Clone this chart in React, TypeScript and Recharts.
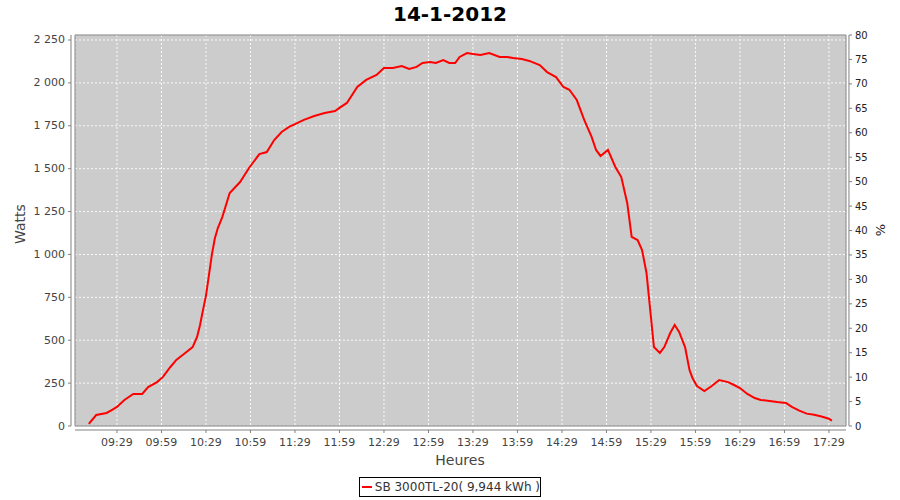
import {
  LineChart,
  Line,
  XAxis,
  YAxis,
  CartesianGrid,
  ReferenceLine,
  ReferenceArea,
} from 'recharts'

// minutes since midnight
const TIMES = [
  550, 555, 562, 566, 569, 574, 580, 586, 590, 596, 600, 605, 609, 615, 620, 623, 625, 627, 629, 631,
  633, 635, 637, 640, 645, 652, 658, 665, 670, 675, 680, 685, 689, 695, 702, 709, 716, 719, 724, 731,
  737, 744, 749, 755, 761, 766, 771, 775, 780, 784, 789, 793, 797, 800, 805, 809, 814, 820, 827, 832,
  836, 842, 847, 854, 859, 865, 870, 874, 879, 884, 889, 892, 895, 900, 905, 909, 913, 916, 920, 923,
  926, 929, 931, 935, 938, 942, 945, 948, 952, 955, 957, 960, 965, 970, 975, 981, 985, 989, 994, 999,
  1003, 1009, 1014, 1020, 1024, 1029, 1034, 1039, 1044, 1049, 1051,
]

const WATTS = [
  12, 64, 76, 95, 111, 152, 187, 187, 227, 256, 286, 344, 385, 426, 460, 519, 589, 676, 760, 880,
  1000, 1094, 1154, 1218, 1358, 1422, 1504, 1585, 1597, 1667, 1714, 1743, 1760, 1784, 1807, 1824, 1836, 1854, 1883, 1976,
  2017, 2046, 2087, 2087, 2098, 2081, 2093, 2116, 2122, 2116, 2133, 2116, 2116, 2151, 2174, 2168, 2163, 2174, 2151, 2151,
  2145, 2139, 2128, 2104, 2063, 2034, 1976, 1960, 1900, 1784, 1685, 1609, 1574, 1609, 1510, 1451, 1300, 1102, 1084, 1026,
  892, 635, 460, 426, 460, 542, 589, 548, 460, 326, 280, 233, 204, 233, 268, 256, 239, 221, 187, 163,
  152, 146, 140, 134, 111, 90, 72, 65, 55, 42, 32,
]

const X_TICKS = [569, 599, 629, 659, 689, 719, 749, 779, 809, 839, 869, 899, 929, 959, 989, 1019, 1049]
const WATT_TICKS = [0, 250, 500, 750, 1000, 1250, 1500, 1750, 2000, 2250]
const PCT_TICKS = [0, 5, 10, 15, 20, 25, 30, 35, 40, 45, 50, 55, 60, 65, 70, 75, 80]

const TITLE = '14-1-2012'
const SERIES_NAME = 'SB 3000TL-20( 9,944 kWh )'

const X_DOMAIN: [number, number] = [540.7, 1060.5]
const W_MAX = 2279.1

const data = TIMES.map((t, i) => ({ t, w: WATTS[i] }))

const FONT = '"DejaVu Sans", sans-serif'
const TICK_COLOR = '#444444'
const AXIS_COLOR = '#808080'

function hhmm(m: number): string {
  const h = Math.floor(m / 60)
  const mm = m % 60
  return String(h).padStart(2, '0') + ':' + String(mm).padStart(2, '0')
}

function watts(n: number): string {
  if (n >= 1000) return Math.floor(n / 1000) + ' ' + String(n % 1000).padStart(3, '0')
  return String(n)
}

function XTick({ x, payload }: any) {
  return (
    <g>
      <line x1={x} x2={x} y1={430} y2={433} stroke={AXIS_COLOR} />
      <text x={x} y={442} textAnchor="middle" dominantBaseline="central" fontSize={11} fill={TICK_COLOR} fontFamily={FONT}>
        {hhmm(payload.value)}
      </text>
    </g>
  )
}

function LeftTick({ y, payload }: any) {
  return (
    <g>
      <line x1={68} x2={71} y1={y} y2={y} stroke={AXIS_COLOR} />
      <text x={65} y={y} textAnchor="end" dominantBaseline="central" fontSize={11} fill={TICK_COLOR} fontFamily={FONT}>
        {watts(payload.value)}
      </text>
    </g>
  )
}

function RightTick({ y, payload }: any) {
  return (
    <g>
      <line x1={849} x2={852} y1={y} y2={y} stroke={AXIS_COLOR} />
      <text x={855} y={y} textAnchor="start" dominantBaseline="central" fontSize={10} fill="#222" fontFamily={FONT}>
        {payload.value}
      </text>
    </g>
  )
}

export default function App() {
  return (
    <div style={{ position: 'absolute', left: 0, top: 0, width: 900, height: 500, background: '#fff', fontFamily: FONT }}>
      <div
        style={{
          position: 'absolute', left: 0, top: 2, width: 900, textAlign: 'center',
          fontSize: 20, fontWeight: 'bold', color: '#000', lineHeight: '24px',
        }}
      >
        {TITLE}
      </div>
      <LineChart width={900} height={500} data={data} margin={{ top: 35, right: 0, bottom: 0, left: 0 }}>
        <CartesianGrid
          yAxisId="left"
          fill="#CCCCCC"
          stroke="#FFFFFF"
          strokeOpacity={0.9}
          strokeDasharray="2 2"
        />
        <XAxis
          dataKey="t"
          type="number"
          domain={X_DOMAIN}
          ticks={X_TICKS}
          allowDataOverflow
          height={74}
          axisLine={false}
          tickLine={false}
          tick={<XTick />}
          interval={0}
        />
        <YAxis
          yAxisId="left"
          orientation="left"
          type="number"
          domain={[0, W_MAX]}
          ticks={WATT_TICKS}
          allowDataOverflow
          width={75}
          axisLine={false}
          tickLine={false}
          tick={<LeftTick />}
          interval={0}
        />
        <YAxis
          yAxisId="right"
          orientation="right"
          type="number"
          domain={[0, 80]}
          ticks={PCT_TICKS}
          allowDataOverflow
          width={54}
          axisLine={false}
          tickLine={false}
          tick={<RightTick />}
          interval={0}
        />
        <ReferenceArea
          yAxisId="left"
          x1={X_DOMAIN[0]}
          x2={X_DOMAIN[1]}
          y1={0}
          y2={W_MAX}
          fill="none"
          stroke={AXIS_COLOR}
          ifOverflow="visible"
        />
        <ReferenceLine yAxisId="left" x={538} stroke={AXIS_COLOR} ifOverflow="visible" />
        <ReferenceLine yAxisId="left" x={1062.5} stroke={AXIS_COLOR} ifOverflow="visible" />
        <ReferenceLine yAxisId="left" y={-23.3} stroke={AXIS_COLOR} ifOverflow="visible" />
        <Line
          yAxisId="left"
          type="linear"
          dataKey="w"
          stroke="#FF0000"
          strokeWidth={2}
          dot={false}
          isAnimationActive={false}
        />
      </LineChart>
      <div
        style={{
          position: 'absolute', left: 6, top: 230, transform: 'translate(0,-50%) rotate(-90deg)',
          fontSize: 14, color: '#444', width: 28, textAlign: 'center',
        }}
      >
        Watts
      </div>
      <div
        style={{
          position: 'absolute', left: 872, top: 230, transform: 'translate(0,-50%) rotate(-90deg)',
          fontSize: 13, color: '#222', width: 16, textAlign: 'center',
        }}
      >
        %
      </div>
      <div
        style={{
          position: 'absolute', left: 0, top: 451, width: 920, textAlign: 'center',
          fontSize: 14, color: '#444', lineHeight: '18px',
        }}
      >
        Heures
      </div>
      <div
        style={{
          position: 'absolute', left: 359, top: 477, width: 182, height: 20,
          border: '1px solid #000', boxSizing: 'border-box', display: 'flex', alignItems: 'center',
          fontSize: 12, color: '#333', whiteSpace: 'nowrap',
        }}
      >
        <span style={{ display: 'inline-block', width: 17, height: 2, background: '#FF0000', marginLeft: 2, marginRight: 3 }} />
        {SERIES_NAME}
      </div>
    </div>
  )
}
